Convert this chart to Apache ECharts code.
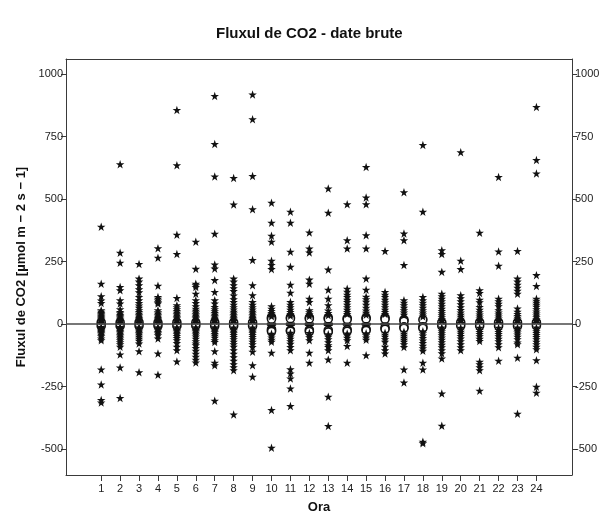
<!DOCTYPE html>
<html><head><meta charset="utf-8">
<script src="https://cdn.jsdelivr.net/npm/echarts@6/dist/echarts.min.js"></script>
<style>html,body{margin:0;padding:0;background:#fff}#c{width:601px;height:512px}</style>
</head><body><div id="c"></div>
<script>
const hours = [1,2,3,4,5,6,7,8,9,10,11,12,13,14,15,16,17,18,19,20,21,22,23,24];
const yTickValues = [-500,-250,0,250,500,750,1000];
const titleText = 'Fluxul de CO2 - date brute';
const yName = 'Fluxul de CO2 [µmol m − 2 s − 1]';
const xName = 'Ora';

// box statistics per hour
const whiskerLow  = [-4,-5,-5,-4,-5,-5,-5,-5,-5,-12,-12,-12,-12,-11,-11,-8,-6,-6,-4,-5,-5,-5,-5,-5];
const boxQ1       = [-2,-2,-2,-2,-2,-2,-2,-2,-2,-5,-5,-5,-5,-4,-4,-3,-2,-2,-2,-2,-2,-2,-2,-2];
const boxMedian   = [0,0,0,-1,0,0,0,-1,0,0,0,0,0,0,0,0,0,0,0,0,0,0,0,0];
const boxQ3       = [2,2,2,2,2,2,2,2,2,5,5,5,5,4,4,4,3,3,2,2,2,2,2,2];
const whiskerHigh = [4,5,5,4,5,5,5,5,5,12,12,12,12,11,11,9,7,7,4,5,5,5,5,5];

// outliers (circles) per hour
const outlierValues = [
  [7,-7],[7,-7],[7,-6],[6,-6],[7,-7],[6,-6],
  [7,-7],[7,-7],[7,-7],[28,24,20,-20,-25,-29],[27,22,-24,-28],[26,21,-23,-29],
  [26,21,-24,-31],[24,19,-22,-28],[26,21,-20,-25],[26,20,-14,-20],[18,12,-11,-16],[18,-11,-16],
  [7,-7],[7,-6],[7,-7],[7,-7],[7,-7],[7,-6]
];

// extremes (stars) per hour
const extremeValues = [
  [389,162,112,95,85,56,50,45,40,35,31,27,23,19,15,11,-11,-15,-19,-23,-27,-31,-36,-42,-48,-57,-64,-181,-241,-303,-313],
  [639,285,245,149,136,96,83,60,49,43,37,32,27,22,18,14,11,-11,-14,-18,-22,-27,-32,-38,-44,-50,-57,-64,-72,-80,-90,-121,-173,-295],
  [240,182,170,156,140,128,109,96,85,75,66,56,49,42,36,30,25,20,15,11,-12,-16,-20,-25,-30,-36,-42,-50,-58,-66,-77,-108,-192],
  [303,265,154,109,102,95,88,83,56,48,42,36,30,25,20,15,11,-12,-16,-20,-25,-31,-37,-44,-57,-117,-202],
  [856,635,357,280,105,76,68,60,53,46,40,34,28,23,17,12,-12,-17,-23,-28,-34,-40,-47,-55,-64,-75,-90,-104,-149],
  [329,221,162,156,149,122,96,85,72,62,54,47,40,34,28,23,17,12,-12,-17,-23,-28,-34,-41,-49,-58,-68,-77,-84,-95,-106,-118,-130,-142,-153],
  [912,720,590,361,238,222,176,129,96,83,69,60,52,45,38,32,26,21,16,12,-12,-16,-21,-26,-32,-39,-46,-54,-64,-71,-108,-154,-164,-306],
  [584,478,182,170,156,144,133,115,100,89,78,68,59,50,43,36,30,24,18,13,-13,-18,-24,-30,-36,-43,-51,-60,-70,-80,-90,-104,-118,-132,-146,-160,-172,-184,-361],
  [918,819,592,459,256,156,116,89,78,68,59,50,43,36,30,25,19,13,-13,-19,-25,-30,-36,-43,-51,-60,-70,-80,-91,-110,-164,-210],
  [485,405,353,329,253,236,220,72,62,53,45,38,32,-38,-45,-53,-62,-70,-114,-343,-494],
  [449,405,289,229,158,126,89,78,68,58,49,41,34,-34,-41,-49,-58,-68,-78,-91,-104,-180,-197,-217,-257,-327],
  [366,302,286,178,162,102,89,56,48,40,33,-35,-44,-52,-64,-114,-154],
  [542,445,218,138,102,76,55,45,36,-40,-50,-60,-72,-84,-91,-104,-141,-290,-407],
  [479,335,302,142,130,118,109,98,89,78,68,58,49,41,-37,-45,-54,-64,-87,-154],
  [628,506,479,355,302,182,138,110,100,90,78,66,55,46,38,-36,-44,-53,-62,-124],
  [292,129,118,109,98,88,78,68,58,49,41,-34,-42,-50,-60,-70,-90,-104,-117],
  [527,362,335,236,96,86,76,66,56,47,38,-30,-38,-46,-54,-62,-70,-80,-91,-181,-233],
  [716,449,109,96,86,76,66,56,47,39,31,-28,-36,-45,-55,-65,-75,-86,-96,-106,-154,-181,-470,-476],
  [295,280,209,122,112,102,92,82,72,62,53,44,36,28,20,13,-13,-20,-28,-36,-44,-53,-62,-72,-82,-92,-104,-116,-137,-277,-406],
  [687,253,220,116,104,92,80,68,57,47,38,30,22,14,-14,-22,-30,-38,-47,-57,-68,-80,-92,-104],
  [365,136,125,98,88,69,58,48,39,31,23,14,-14,-23,-31,-39,-48,-58,-67,-150,-160,-172,-184,-266],
  [588,290,233,102,92,82,72,56,47,39,31,23,14,-14,-23,-31,-39,-48,-58,-68,-80,-92,-146],
  [292,182,170,158,146,134,122,63,50,41,33,26,19,13,-13,-19,-26,-33,-41,-50,-60,-73,-80,-134,-358],
  [868,656,602,196,153,102,94,86,78,70,60,51,43,35,28,20,13,-13,-20,-28,-35,-43,-51,-60,-70,-80,-90,-100,-144,-250,-274]
];

const STAR = 'path://M50,0 L61.8,34.5 L97.6,34.5 L68.6,55.9 L79.4,90.5 L50,69.1 L20.6,90.5 L31.4,55.9 L2.4,34.5 L38.2,34.5 Z';
const FONT = '"Liberation Sans", Arial, sans-serif';

const boxData = hours.map((h,i)=>[h, whiskerLow[i], boxQ1[i], boxMedian[i], boxQ3[i], whiskerHigh[i]]);
const starData = [];
extremeValues.forEach((arr,i)=>arr.forEach(v=>starData.push([hours[i], v])));
const circleData = [];
outlierValues.forEach((arr,i)=>arr.forEach(v=>circleData.push([hours[i], v])));

const chart = echarts.init(document.getElementById('c'), null, {renderer:'canvas'});
const axisColor = '#3a3a3a';
const plain = v => String(v);
chart.setOption({
  animation:false,
  backgroundColor:'#fff',
  title:{text:titleText, left:211, top:21, textStyle:{fontFamily:FONT, fontSize:15, fontWeight:'bold', color:'#111'}},
  grid:{left:66, right:29, top:59, bottom:37, containLabel:false, outerBoundsMode:'none'},
  xAxis:[{
    type:'value', min:-0.86, max:25.88, position:'bottom',
    axisLine:{show:true, onZero:false, lineStyle:{color:axisColor, width:1}},
    axisTick:{show:true, length:6, customValues:hours, lineStyle:{color:axisColor}},
    axisLabel:{customValues:hours, formatter:plain, fontFamily:FONT, fontSize:11, color:'#222', margin:8},
    splitLine:{show:false},
    name:xName, nameLocation:'middle', nameGap:26,
    nameTextStyle:{fontFamily:FONT, fontSize:13, fontWeight:'bold', color:'#111'}
  },{
    type:'value', min:-0.86, max:25.88, position:'top',
    axisLine:{show:true, onZero:false, lineStyle:{color:axisColor, width:1}},
    axisTick:{show:false}, axisLabel:{show:false}, splitLine:{show:false}
  }],
  yAxis:[{
    type:'value', min:-603, max:1060, position:'left',
    axisLine:{show:true, onZero:false, lineStyle:{color:axisColor, width:1}},
    axisTick:{show:true, length:5, customValues:yTickValues, lineStyle:{color:axisColor}},
    axisLabel:{customValues:yTickValues, formatter:plain, fontFamily:FONT, fontSize:11, color:'#222', margin:3},
    splitLine:{show:false},
    name:yName, nameLocation:'middle', nameGap:36,
    nameTextStyle:{fontFamily:FONT, fontSize:13, fontWeight:'bold', color:'#111'}
  },{
    type:'value', min:-603, max:1060, position:'right',
    axisLine:{show:true, onZero:false, lineStyle:{color:axisColor, width:1}},
    axisTick:{show:true, length:5, customValues:yTickValues, lineStyle:{color:axisColor}},
    axisLabel:{customValues:yTickValues, formatter:plain, fontFamily:FONT, fontSize:11, color:'#222', margin:3},
    splitLine:{show:false}
  }],
  series:[
    {
      type:'custom', xAxisIndex:0, yAxisIndex:0, data:boxData, z:2,
      renderItem:function(params, api){
        const x = api.value(0);
        const pLow = api.coord([x, api.value(1)]);
        const pQ1 = api.coord([x, api.value(2)]);
        const pMed = api.coord([x, api.value(3)]);
        const pQ3 = api.coord([x, api.value(4)]);
        const pHigh = api.coord([x, api.value(5)]);
        const hw = api.size([0.22, 0])[0];
        return {type:'group', children:[
          {type:'line', shape:{x1:pLow[0], y1:pLow[1], x2:pQ1[0], y2:pQ1[1]}, style:{stroke:'#000', lineWidth:1}},
          {type:'line', shape:{x1:pQ3[0], y1:pQ3[1], x2:pHigh[0], y2:pHigh[1]}, style:{stroke:'#000', lineWidth:1}},
          {type:'line', shape:{x1:pLow[0]-hw/2, y1:pLow[1], x2:pLow[0]+hw/2, y2:pLow[1]}, style:{stroke:'#000', lineWidth:1}},
          {type:'line', shape:{x1:pHigh[0]-hw/2, y1:pHigh[1], x2:pHigh[0]+hw/2, y2:pHigh[1]}, style:{stroke:'#000', lineWidth:1}},
          {type:'rect', shape:{x:pQ3[0]-hw, y:pQ3[1], width:hw*2, height:pQ1[1]-pQ3[1]}, style:{fill:'#d8d4a0', stroke:'#000', lineWidth:1}},
          {type:'line', shape:{x1:pMed[0]-hw, y1:pMed[1], x2:pMed[0]+hw, y2:pMed[1]}, style:{stroke:'#000', lineWidth:2}}
        ]};
      },
      markLine:{silent:true, symbol:'none', label:{show:false},
        lineStyle:{color:'#4a4a4a', width:1.5, type:'solid'}, data:[{yAxis:0}]}
    },
    {
      type:'scatter', xAxisIndex:0, yAxisIndex:0, data:circleData, z:3,
      symbol:'circle', symbolSize:8, itemStyle:{color:'#fff', borderColor:'#111', borderWidth:1.6, opacity:1}
    },
    {
      type:'scatter', xAxisIndex:0, yAxisIndex:0, data:starData, z:4,
      symbol:STAR, symbolSize:8.5, itemStyle:{color:'#111', opacity:1}
    }
  ]
});
</script></body></html>
